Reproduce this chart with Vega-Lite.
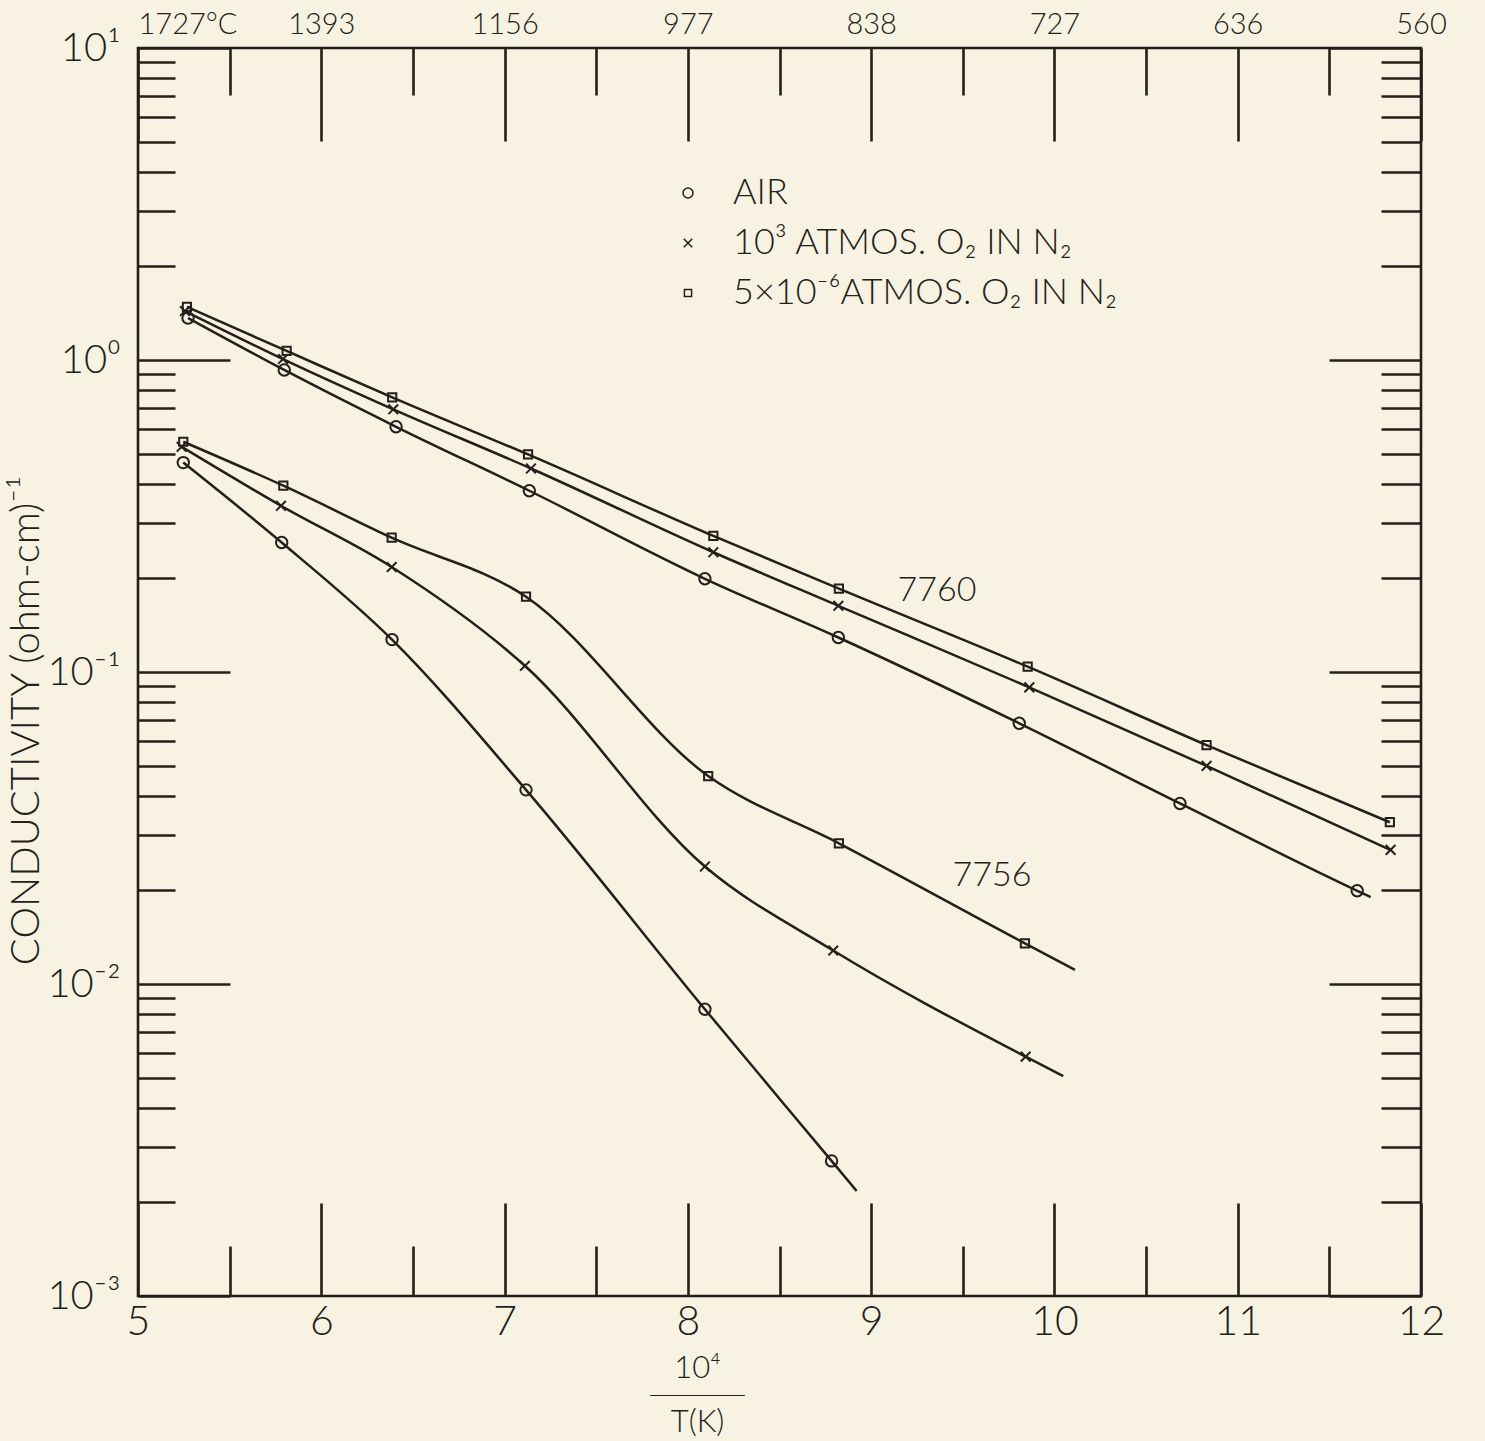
{
  "$schema": "https://vega.github.io/schema/vega-lite/v6.json",
  "width": 1283,
  "height": 1248,
  "autosize": {"type": "none"},
  "padding": {"left": 138, "top": 48, "right": 64, "bottom": 145},
  "background": "#f7f2e2",
  "config": {
    "font": "Lato",
    "view": {"stroke": "#231f1a", "strokeWidth": 2.6},
    "axis": {
      "domain": false, "grid": false,
      "tickColor": "#231f1a", "tickWidth": 2.6,
      "labelColor": "#231f1a", "titleColor": "#231f1a",
      "labelFont": "Lato", "titleFont": "Lato",
      "labelFontWeight": 300, "titleFontWeight": 300,
      "labelOverlap": false, "labelFlush": false
    }
  },
  "datasets": {
    "curves": [
      {"sample": "7760", "gas": "AIR", "inv_T": 5.273, "sigma": 1.363, "kind": "point"},
      {"sample": "7760", "gas": "AIR", "inv_T": 5.798, "sigma": 0.929, "kind": "point"},
      {"sample": "7760", "gas": "AIR", "inv_T": 6.408, "sigma": 0.611, "kind": "point"},
      {"sample": "7760", "gas": "AIR", "inv_T": 7.135, "sigma": 0.381, "kind": "point"},
      {"sample": "7760", "gas": "AIR", "inv_T": 8.093, "sigma": 0.199, "kind": "point"},
      {"sample": "7760", "gas": "AIR", "inv_T": 8.821, "sigma": 0.129, "kind": "point"},
      {"sample": "7760", "gas": "AIR", "inv_T": 9.808, "sigma": 0.0685, "kind": "point"},
      {"sample": "7760", "gas": "AIR", "inv_T": 10.685, "sigma": 0.0379, "kind": "point"},
      {"sample": "7760", "gas": "AIR", "inv_T": 11.652, "sigma": 0.0199, "kind": "point"},
      {"sample": "7760", "gas": "AIR", "inv_T": 11.725, "sigma": 0.019, "kind": "end"},
      {"sample": "7760", "gas": "10³ ATMOS. O₂ IN N₂", "inv_T": 5.256, "sigma": 1.435, "kind": "point"},
      {"sample": "7760", "gas": "10³ ATMOS. O₂ IN N₂", "inv_T": 5.791, "sigma": 1.007, "kind": "point"},
      {"sample": "7760", "gas": "10³ ATMOS. O₂ IN N₂", "inv_T": 6.393, "sigma": 0.695, "kind": "point"},
      {"sample": "7760", "gas": "10³ ATMOS. O₂ IN N₂", "inv_T": 7.144, "sigma": 0.449, "kind": "point"},
      {"sample": "7760", "gas": "10³ ATMOS. O₂ IN N₂", "inv_T": 8.139, "sigma": 0.242, "kind": "point"},
      {"sample": "7760", "gas": "10³ ATMOS. O₂ IN N₂", "inv_T": 8.821, "sigma": 0.163, "kind": "point"},
      {"sample": "7760", "gas": "10³ ATMOS. O₂ IN N₂", "inv_T": 9.863, "sigma": 0.0893, "kind": "point"},
      {"sample": "7760", "gas": "10³ ATMOS. O₂ IN N₂", "inv_T": 10.83, "sigma": 0.05, "kind": "point"},
      {"sample": "7760", "gas": "10³ ATMOS. O₂ IN N₂", "inv_T": 11.834, "sigma": 0.0269, "kind": "point"},
      {"sample": "7760", "gas": "5×10⁻⁶ATMOS. O₂ IN N₂", "inv_T": 5.267, "sigma": 1.479, "kind": "point"},
      {"sample": "7760", "gas": "5×10⁻⁶ATMOS. O₂ IN N₂", "inv_T": 5.811, "sigma": 1.069, "kind": "point"},
      {"sample": "7760", "gas": "5×10⁻⁶ATMOS. O₂ IN N₂", "inv_T": 6.387, "sigma": 0.759, "kind": "point"},
      {"sample": "7760", "gas": "5×10⁻⁶ATMOS. O₂ IN N₂", "inv_T": 7.128, "sigma": 0.498, "kind": "point"},
      {"sample": "7760", "gas": "5×10⁻⁶ATMOS. O₂ IN N₂", "inv_T": 8.139, "sigma": 0.273, "kind": "point"},
      {"sample": "7760", "gas": "5×10⁻⁶ATMOS. O₂ IN N₂", "inv_T": 8.824, "sigma": 0.185, "kind": "point"},
      {"sample": "7760", "gas": "5×10⁻⁶ATMOS. O₂ IN N₂", "inv_T": 9.854, "sigma": 0.104, "kind": "point"},
      {"sample": "7760", "gas": "5×10⁻⁶ATMOS. O₂ IN N₂", "inv_T": 10.83, "sigma": 0.0583, "kind": "point"},
      {"sample": "7760", "gas": "5×10⁻⁶ATMOS. O₂ IN N₂", "inv_T": 11.83, "sigma": 0.033, "kind": "point"},
      {"sample": "7756", "gas": "AIR", "inv_T": 5.247, "sigma": 0.469, "kind": "point"},
      {"sample": "7756", "gas": "AIR", "inv_T": 5.784, "sigma": 0.26, "kind": "point"},
      {"sample": "7756", "gas": "AIR", "inv_T": 6.386, "sigma": 0.127, "kind": "point"},
      {"sample": "7756", "gas": "AIR", "inv_T": 7.117, "sigma": 0.0419, "kind": "point"},
      {"sample": "7756", "gas": "AIR", "inv_T": 8.093, "sigma": 0.0083, "kind": "point"},
      {"sample": "7756", "gas": "AIR", "inv_T": 8.784, "sigma": 0.00271, "kind": "point"},
      {"sample": "7756", "gas": "AIR", "inv_T": 8.921, "sigma": 0.00217, "kind": "end"},
      {"sample": "7756", "gas": "10³ ATMOS. O₂ IN N₂", "inv_T": 5.238, "sigma": 0.527, "kind": "point"},
      {"sample": "7756", "gas": "10³ ATMOS. O₂ IN N₂", "inv_T": 5.78, "sigma": 0.341, "kind": "point"},
      {"sample": "7756", "gas": "10³ ATMOS. O₂ IN N₂", "inv_T": 6.384, "sigma": 0.217, "kind": "point"},
      {"sample": "7756", "gas": "10³ ATMOS. O₂ IN N₂", "inv_T": 7.111, "sigma": 0.1047, "kind": "point"},
      {"sample": "7756", "gas": "10³ ATMOS. O₂ IN N₂", "inv_T": 8.093, "sigma": 0.0238, "kind": "point"},
      {"sample": "7756", "gas": "10³ ATMOS. O₂ IN N₂", "inv_T": 8.793, "sigma": 0.0128, "kind": "point"},
      {"sample": "7756", "gas": "10³ ATMOS. O₂ IN N₂", "inv_T": 9.843, "sigma": 0.00585, "kind": "point"},
      {"sample": "7756", "gas": "10³ ATMOS. O₂ IN N₂", "inv_T": 10.048, "sigma": 0.00507, "kind": "end"},
      {"sample": "7756", "gas": "5×10⁻⁶ATMOS. O₂ IN N₂", "inv_T": 5.247, "sigma": 0.547, "kind": "point"},
      {"sample": "7756", "gas": "5×10⁻⁶ATMOS. O₂ IN N₂", "inv_T": 5.793, "sigma": 0.3955, "kind": "point"},
      {"sample": "7756", "gas": "5×10⁻⁶ATMOS. O₂ IN N₂", "inv_T": 6.384, "sigma": 0.2694, "kind": "point"},
      {"sample": "7756", "gas": "5×10⁻⁶ATMOS. O₂ IN N₂", "inv_T": 7.117, "sigma": 0.1743, "kind": "point"},
      {"sample": "7756", "gas": "5×10⁻⁶ATMOS. O₂ IN N₂", "inv_T": 8.111, "sigma": 0.0464, "kind": "point"},
      {"sample": "7756", "gas": "5×10⁻⁶ATMOS. O₂ IN N₂", "inv_T": 8.824, "sigma": 0.02825, "kind": "point"},
      {"sample": "7756", "gas": "5×10⁻⁶ATMOS. O₂ IN N₂", "inv_T": 9.839, "sigma": 0.0135, "kind": "point"},
      {"sample": "7756", "gas": "5×10⁻⁶ATMOS. O₂ IN N₂", "inv_T": 10.112, "sigma": 0.0111, "kind": "end"}
    ],
    "labels": [
      {"label": "7760", "inv_T": 9.359, "sigma": 0.182},
      {"label": "7756", "inv_T": 9.659, "sigma": 0.0222}
    ]
  },
  "layer": [
    {
      "data": {"name": "curves"},
      "mark": {"type": "line", "interpolate": "monotone", "color": "#231f1a", "strokeWidth": 2.5},
      "encoding": {
        "x": {
          "field": "inv_T", "type": "quantitative",
          "scale": {"domain": [5, 12], "nice": false, "zero": false},
          "axis": {
            "orient": "bottom",
            "values": [5, 5.5, 6, 6.5, 7, 7.5, 8, 8.5, 9, 9.5, 10, 10.5, 11, 11.5, 12],
            "tickSize": {"condition": {"test": "datum.value % 1 == 0", "value": -93}, "value": -50},
            "labelExpr": "datum.value % 1 == 0 ? format(datum.value, 'd') : ''",
            "labelFontSize": 41,
            "labelPadding": 99,
            "title": ["10⁴", "────", "T(K)"],
            "titleFontSize": 31,
            "titleLineHeight": 27,
            "titleX": 559,
            "titleY": 57,
            "titleAlign": "center",
            "titleBaseline": "top"
          }
        },
        "y": {
          "field": "sigma", "type": "quantitative",
          "scale": {"type": "log", "domain": [0.001, 10], "nice": false},
          "axis": {
            "orient": "left",
            "values": [0.001, 0.002, 0.003, 0.004, 0.005, 0.006, 0.007, 0.008, 0.009, 0.01, 0.02, 0.03, 0.04, 0.05, 0.06, 0.07, 0.08, 0.09, 0.1, 0.2, 0.3, 0.4, 0.5, 0.6, 0.7, 0.8, 0.9, 1, 2, 3, 4, 5, 6, 7, 8, 9, 10],
            "tickSize": {"condition": {"test": "abs(log(datum.value)/LN10 - round(log(datum.value)/LN10)) < 0.001", "value": -92}, "value": -37},
            "labelExpr": "abs(log(datum.value)/LN10 - round(log(datum.value)/LN10)) < 0.001 ? ['10⁻³','10⁻²','10⁻¹','10⁰','10¹'][round(log(datum.value)/LN10) + 3] : ''",
            "labelFontSize": 40,
            "labelPadding": 110,
            "title": "CONDUCTIVITY (ohm-cm)⁻¹",
            "titleFontSize": 40,
            "titleX": -112,
            "titleY": 672,
            "titleAngle": -90,
            "titleAlign": "center",
            "titleBaseline": "middle"
          }
        },
        "detail": [{"field": "sample"}, {"field": "gas"}]
      }
    },
    {
      "data": {"name": "curves"},
      "transform": [{"filter": "datum.kind == 'point'"}],
      "mark": {"type": "point", "filled": false, "color": "#231f1a", "strokeWidth": 2, "opacity": 1, "size": 130},
      "encoding": {
        "x": {
          "field": "inv_T", "type": "quantitative",
          "axis": {
            "orient": "top",
            "values": [5, 5.5, 6, 6.5, 7, 7.5, 8, 8.5, 9, 9.5, 10, 10.5, 11, 11.5, 12],
            "tickSize": {"condition": {"test": "datum.value % 1 == 0", "value": -93}, "value": -47},
            "labelExpr": "datum.value % 1 == 0 ? ['1727°C','1393','1156','977','838','727','636','560'][datum.value - 5] : ''",
            "labelAlign": {"condition": {"test": "datum.value == 5", "value": "left"}, "value": "center"},
            "labelFontSize": 29,
            "labelPadding": 102,
            "title": null
          }
        },
        "y": {
          "field": "sigma", "type": "quantitative",
          "axis": {
            "orient": "right",
            "values": [0.001, 0.002, 0.003, 0.004, 0.005, 0.006, 0.007, 0.008, 0.009, 0.01, 0.02, 0.03, 0.04, 0.05, 0.06, 0.07, 0.08, 0.09, 0.1, 0.2, 0.3, 0.4, 0.5, 0.6, 0.7, 0.8, 0.9, 1, 2, 3, 4, 5, 6, 7, 8, 9, 10],
            "tickSize": {"condition": {"test": "abs(log(datum.value)/LN10 - round(log(datum.value)/LN10)) < 0.001", "value": -92}, "value": -40},
            "labels": false,
            "title": null
          }
        },
        "shape": {
          "field": "gas", "type": "nominal",
          "scale": {
            "domain": ["AIR", "10³ ATMOS. O₂ IN N₂", "5×10⁻⁶ATMOS. O₂ IN N₂"],
            "range": ["circle", "M-0.85,-0.85L0.85,0.85M-0.85,0.85L0.85,-0.85", "M-0.72,-0.72H0.72V0.72H-0.72Z"]
          },
          "legend": {
            "orient": "none",
            "legendX": 532,
            "legendY": 127,
            "title": null,
            "labelFontSize": 36,
            "labelFont": "Lato",
            "labelFontWeight": 300,
            "labelColor": "#231f1a",
            "labelLimit": 800,
            "rowPadding": 14,
            "labelOffset": 27
          }
        }
      }
    },
    {
      "data": {"name": "labels"},
      "mark": {"type": "text", "fontSize": 34, "font": "Lato", "fontWeight": 300, "color": "#231f1a"},
      "encoding": {
        "x": {"field": "inv_T", "type": "quantitative", "axis": null},
        "y": {"field": "sigma", "type": "quantitative", "axis": null},
        "text": {"field": "label"}
      }
    }
  ],
  "resolve": {"axis": {"x": "independent", "y": "independent"}}
}
